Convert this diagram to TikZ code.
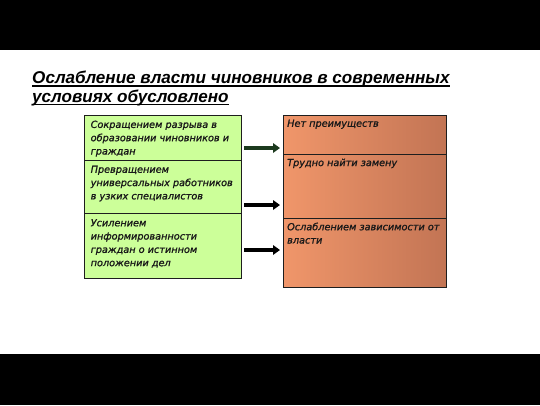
\documentclass[tikz,border=0pt]{standalone}
\usepackage{fontspec}
\usetikzlibrary{arrows.meta}
\newfontfamily\dvs[ItalicFeatures={FakeBold=1.2}]{DejaVu Sans}
\newfontfamily\lib{Liberation Sans}
\definecolor{boxgreen}{RGB}{204,255,153}
\definecolor{orlight}{RGB}{240,150,106}
\definecolor{ordark}{RGB}{194,116,84}
\definecolor{arrgreen}{RGB}{28,58,30}
\definecolor{edge}{RGB}{30,30,30}
\tikzset{
  band/.style={fill=black, draw=none},
  greenbox/.style={draw=edge, line width=1.2pt, fill=boxgreen, rectangle, inner sep=0pt, anchor=north west},
  orbox/.style={draw=edge, line width=1.2pt, left color=orlight, right color=ordark, rectangle, inner sep=0pt, anchor=north west},
  boxtext/.style={anchor=north west, inner sep=0pt, align=left, font=\dvs\itshape\fontsize{9.7}{13.3}\selectfont, text=black!90},
  titletext/.style={anchor=base west, inner sep=0pt, font=\lib\bfseries\itshape\fontsize{17.1}{19}\selectfont},
  uline/.style={line width=1.3pt},
  conn/.style={line width=3.2pt, -{Triangle[length=7pt,width=9.5pt]}},
}
\begin{document}
\begin{tikzpicture}[x=1pt,y=-1pt]
\useasboundingbox (0,0) rectangle (540,405);
\fill[white] (0,0) rectangle (540,405);
\path[band] (0,0) rectangle (540,50);
\path[band] (0,354) rectangle (540,405);

% title
\node[titletext] (t1) at (32,83.5) {Ослабление власти чиновников в современных};
\node[titletext] (t2) at (32,102) {условиях обусловлено};
\draw[uline] ([yshift=-2.5pt]t1.base west) -- ([yshift=-2.5pt]t1.base east);
\draw[uline] ([yshift=-2.5pt]t2.base west) -- ([yshift=-2.5pt]t2.base east);

% left boxes
\node[greenbox, minimum width=157pt, minimum height=45pt] (L1) at (84,115) {};
\node[greenbox, minimum width=157pt, minimum height=53pt] (L2) at (84,160) {};
\node[greenbox, minimum width=157pt, minimum height=65pt] (L3) at (84,213) {};
\node[boxtext] (l1t) at (90.5,120.5) {Сокращением разрыва в\\образовании чиновников и\\граждан};
\node[boxtext] (l2t) at (90.5,165.5) {Превращением\\универсальных работников\\в узких специалистов};
\node[boxtext] (l3t) at (90.5,219) {Усилением\\информированности\\граждан о истинном\\положении дел};

% right boxes
\node[orbox, minimum width=163pt, minimum height=39pt] (R1) at (283,115) {};
\node[orbox, minimum width=163pt, minimum height=64pt] (R2) at (283,154) {};
\node[orbox, minimum width=163pt, minimum height=69pt] (R3) at (283,218) {};
\node[boxtext] (r1t) at (287,119.5) {Нет преимуществ};
\node[boxtext] (r2t) at (287,158.5) {Трудно найти замену};
\node[boxtext] (r3t) at (287,222.5) {Ослаблением зависимости от\\власти};

% arrows
\coordinate (a1) at (244,148);
\coordinate (b1) at (280,148);
\coordinate (a2) at (244,205);
\coordinate (b2) at (280,205);
\coordinate (a3) at (244,250);
\coordinate (b3) at (280,250);
\draw[conn, draw=arrgreen, fill=arrgreen] (a1) -- (b1);
\draw[conn] (a2) -- (b2);
\draw[conn] (a3) -- (b3);
\end{tikzpicture}
\end{document}
